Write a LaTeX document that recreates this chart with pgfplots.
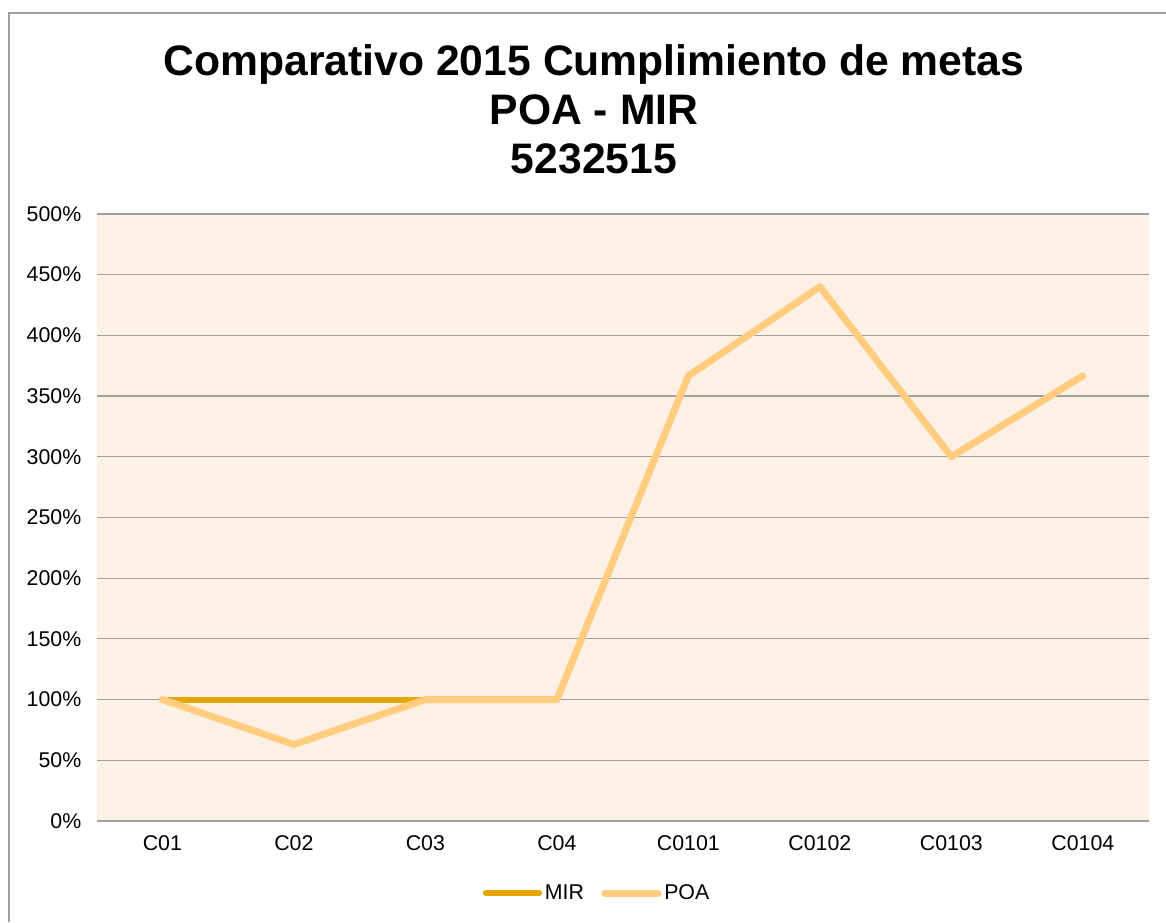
\documentclass[border=0pt]{standalone}
\usepackage{pgfplots}
\pgfplotsset{compat=1.18}
\usepackage{fontspec}
\setmainfont{Liberation Sans}
\definecolor{mirc}{HTML}{E3A800}
\definecolor{poac}{HTML}{FFCC80}
\definecolor{bgc}{HTML}{FDF1E6}
\definecolor{gridc}{HTML}{A0A0A0}
\begin{document}
\begin{tikzpicture}[x=1pt,y=1pt]
\path[use as bounding box] (0,0) rectangle (874.5,691.5);
\draw[gridc, line width=1.2pt] (6.75,0) -- (6.75,681.75) -- (874.5,681.75);
\node[align=center, font=\fontsize{32}{36.5}\selectfont\bfseries] at (445.5,609.5) {Comparativo 2015 Cumplimiento de metas\\POA - MIR\\5232515};
\begin{axis}[
  at={(73.5,83.25)}, anchor=south west,
  scale only axis, width=789pt, height=455.25pt,
  xmin=-0.5, xmax=7.5, ymin=0, ymax=500,
  axis background/.style={fill=bgc},
  axis line style={draw=none},
  major tick length=0pt,
  xtick={0,...,7},
  xticklabels={C01,C02,C03,C04,C0101,C0102,C0103,C0104},
  ytick={0,50,...,500},
  yticklabels={0\%,50\%,100\%,150\%,200\%,250\%,300\%,350\%,400\%,450\%,500\%},
  ymajorgrids, grid style={gridc, line width=0.9pt},
  tick label style={font=\fontsize{16}{19}\selectfont},
  yticklabel style={xshift=-8pt},
  xticklabel style={yshift=-7.5pt},
  legend style={at={(0.476,-0.119)}, anchor=center, draw=none, fill=none, legend columns=2,
    font=\fontsize{16}{19}\selectfont, /tikz/every even column/.append style={column sep=11pt}},
  legend image code/.code={\draw[#1, line cap=round] (0pt,0pt) -- (40pt,0pt);},
]
\addplot[mirc, line width=4.5pt, line cap=round, line join=round] coordinates {(0,100) (1,100) (2,100) (3,100)};
\addlegendentry{MIR}
\addplot[poac, line width=5.25pt, line cap=round, line join=round] coordinates {(0,100) (1,63) (2,100) (3,100) (4,366.7) (5,440) (6,300) (7,366.7)};
\addlegendentry{POA}
\end{axis}
\end{tikzpicture}
\end{document}
